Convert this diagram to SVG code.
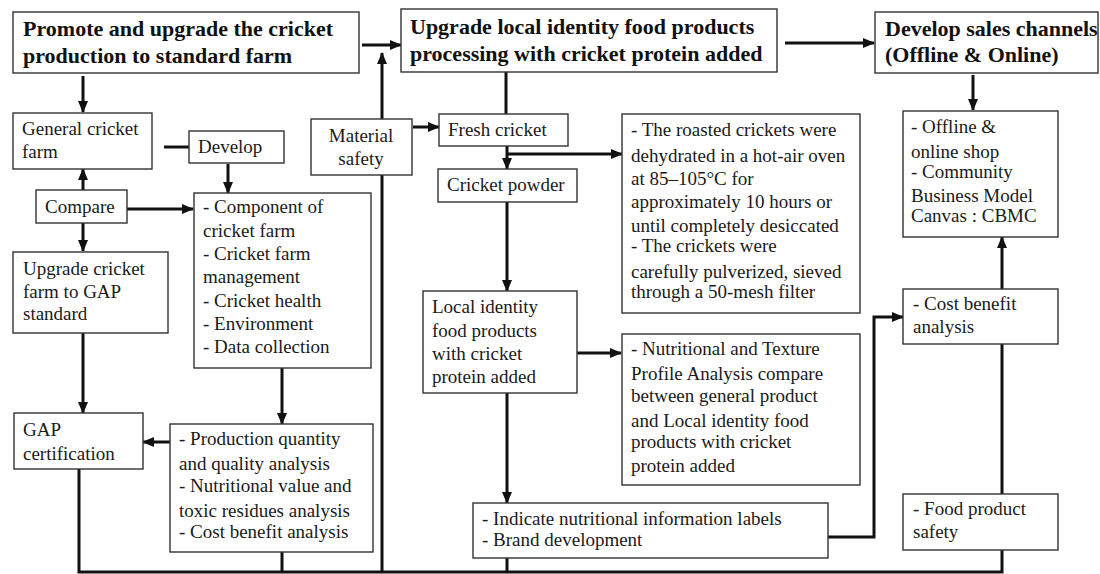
<svg xmlns="http://www.w3.org/2000/svg" width="1100" height="574" viewBox="0 0 1100 574">
<defs>
<marker id="ah" markerUnits="userSpaceOnUse" markerWidth="12" markerHeight="12" viewBox="0 0 12 12" refX="11" refY="6" orient="auto">
<path d="M0,1 L12,6 L0,11 Z" fill="#111"/>
</marker>
<style>
.box{fill:#fff;stroke:#333;stroke-width:1.4}
.t{font-family:'Liberation Serif','Times New Roman','DejaVu Serif',serif;font-size:19px;fill:#1a1a1a}
.h{font-family:'Liberation Serif','Times New Roman','DejaVu Serif',serif;font-size:22px;font-weight:bold;fill:#111}
.c{fill:none;stroke:#111;stroke-width:3}
.a{marker-end:url(#ah)}
</style>
</defs>
<rect width="1100" height="574" fill="#fff"/>
<g id="connectors">
<path class="c a" d="M362,45 H401"/>
<path class="c a" d="M785,43 H874"/>
<path class="c a" d="M83,76 V112"/>
<path class="c a" d="M973,75 V110"/>
<path class="c a" d="M83,190 V169"/>
<path class="c a" d="M83,223 V251"/>
<path class="c a" d="M127,209 H193"/>
<path class="c" d="M164,147 H189"/>
<path class="c a" d="M228,164 V193"/>
<path class="c a" d="M382,119 V53"/>
<path class="c a" d="M413,127 H439"/>
<path class="c" d="M506,72 V114"/>
<path class="c a" d="M507,146 V169"/>
<path class="c a" d="M507,154 H622"/>
<path class="c a" d="M507,202 V291"/>
<path class="c a" d="M577,353 H621"/>
<path class="c a" d="M507,393 V503"/>
<path class="c a" d="M83,333 V413"/>
<path class="c a" d="M282,368 V424"/>
<path class="c a" d="M170,442 H143"/>
<path class="c a" d="M828,537 H874 V317 H903"/>
<path class="c a" d="M1002,289 V237"/>
<path class="c" d="M1002,494 V344"/>
<path class="c" d="M79,469 V572 H1002 V550"/>
<path class="c" d="M282,552 V572"/>
<path class="c" d="M382,175 V572"/>
<path class="c" d="M507,558 V572"/>
</g>
<g id="n-promote">
<rect class="box" x="13" y="12" width="346" height="61"/>
<text class="h" x="23" y="36">Promote and upgrade the cricket</text>
<text class="h" x="23" y="63">production to standard farm</text>
</g>
<g id="n-upgrade-local">
<rect class="box" x="401" y="9" width="376" height="63"/>
<text class="h" x="410" y="34">Upgrade local identity food products</text>
<text class="h" x="410" y="61">processing with cricket protein added</text>
</g>
<g id="n-sales">
<rect class="box" x="875" y="12" width="223" height="61"/>
<text class="h" x="885" y="36">Develop sales channels</text>
<text class="h" x="885" y="62">(Offline &amp; Online)</text>
</g>
<g id="n-general">
<rect class="box" x="13" y="113" width="139" height="56"/>
<text class="t" x="22" y="135">General cricket</text>
<text class="t" x="22" y="158">farm</text>
</g>
<g id="n-develop">
<rect class="box" x="189" y="131" width="95" height="32"/>
<text class="t" x="198" y="153">Develop</text>
</g>
<g id="n-material">
<rect class="box" x="311" y="119" width="101" height="56"/>
<text class="t" x="361" y="142" text-anchor="middle">Material</text>
<text class="t" x="361" y="165" text-anchor="middle">safety</text>
</g>
<g id="n-compare">
<rect class="box" x="36" y="190" width="91" height="33"/>
<text class="t" x="45" y="213">Compare</text>
</g>
<g id="n-component">
<rect class="box" x="194" y="193" width="177" height="175"/>
<text class="t" x="203" y="213">- Component of</text>
<text class="t" x="203" y="237">cricket farm</text>
<text class="t" x="203" y="260">- Cricket farm</text>
<text class="t" x="203" y="283">management</text>
<text class="t" x="203" y="307">- Cricket health</text>
<text class="t" x="203" y="330">- Environment</text>
<text class="t" x="203" y="353">- Data collection</text>
</g>
<g id="n-upgrade-gap">
<rect class="box" x="13" y="252" width="155" height="81"/>
<text class="t" x="23" y="275">Upgrade cricket</text>
<text class="t" x="23" y="298">farm to GAP</text>
<text class="t" x="23" y="320">standard</text>
</g>
<g id="n-gap">
<rect class="box" x="14" y="413" width="129" height="56"/>
<text class="t" x="23" y="436">GAP</text>
<text class="t" x="23" y="460">certification</text>
</g>
<g id="n-production">
<rect class="box" x="170" y="424" width="203" height="128"/>
<text class="t" x="179" y="445">- Production quantity</text>
<text class="t" x="179" y="470">and quality analysis</text>
<text class="t" x="179" y="492">- Nutritional value and</text>
<text class="t" x="179" y="517">toxic residues analysis</text>
<text class="t" x="179" y="538">- Cost benefit analysis</text>
</g>
<g id="n-fresh">
<rect class="box" x="439" y="114" width="129" height="32"/>
<text class="t" x="448" y="136">Fresh cricket</text>
</g>
<g id="n-powder">
<rect class="box" x="438" y="169" width="139" height="33"/>
<text class="t" x="447" y="191">Cricket powder</text>
</g>
<g id="n-roasted">
<rect class="box" x="622" y="114" width="238" height="199"/>
<text class="t" x="631" y="136">- The roasted crickets were</text>
<text class="t" x="631" y="162">dehydrated in a hot-air oven</text>
<text class="t" x="631" y="185">at 85–105°C for</text>
<text class="t" x="631" y="208">approximately 10 hours or</text>
<text class="t" x="631" y="232">until completely desiccated</text>
<text class="t" x="631" y="252">- The crickets were</text>
<text class="t" x="631" y="278">carefully pulverized, sieved</text>
<text class="t" x="631" y="298">through a 50-mesh filter</text>
</g>
<g id="n-local">
<rect class="box" x="423" y="291" width="154" height="102"/>
<text class="t" x="432" y="313">Local identity</text>
<text class="t" x="432" y="337">food products</text>
<text class="t" x="432" y="360">with cricket</text>
<text class="t" x="432" y="383">protein added</text>
</g>
<g id="n-nutritional">
<rect class="box" x="622" y="334" width="238" height="151"/>
<text class="t" x="631" y="355">- Nutritional and Texture</text>
<text class="t" x="631" y="380">Profile Analysis compare</text>
<text class="t" x="631" y="402">between general product</text>
<text class="t" x="631" y="427">and Local identity food</text>
<text class="t" x="631" y="448">products with cricket</text>
<text class="t" x="631" y="472">protein added</text>
</g>
<g id="n-indicate">
<rect class="box" x="473" y="503" width="355" height="55"/>
<text class="t" x="482" y="525">- Indicate nutritional information labels</text>
<text class="t" x="482" y="546">- Brand development</text>
</g>
<g id="n-offline">
<rect class="box" x="903" y="111" width="155" height="126"/>
<text class="t" x="911" y="133">- Offline &amp;</text>
<text class="t" x="911" y="158">online shop</text>
<text class="t" x="911" y="178">- Community</text>
<text class="t" x="911" y="202">Business Model</text>
<text class="t" x="911" y="222">Canvas : CBMC</text>
</g>
<g id="n-cost">
<rect class="box" x="903" y="289" width="155" height="55"/>
<text class="t" x="913" y="310">- Cost benefit</text>
<text class="t" x="913" y="333">analysis</text>
</g>
<g id="n-food-safety">
<rect class="box" x="903" y="494" width="155" height="56"/>
<text class="t" x="913" y="515">- Food product</text>
<text class="t" x="913" y="538">safety</text>
</g>
</svg>
